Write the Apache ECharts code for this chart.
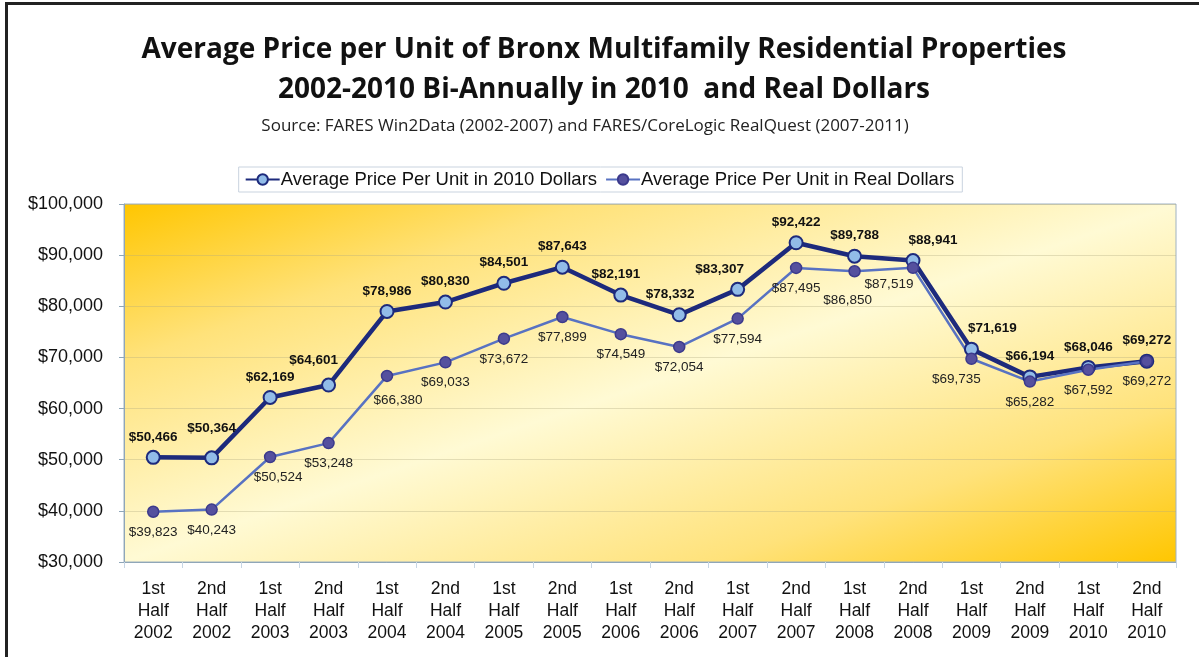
<!DOCTYPE html>
<html>
<head>
<meta charset="utf-8">
<title>Bronx Multifamily Average Price per Unit</title>
<script src="https://cdn.jsdelivr.net/npm/echarts@6/dist/echarts.min.js"></script>
<style>
  html, body { margin: 0; padding: 0; background: #fff; }
  #frame {
    position: absolute; left: 5px; top: 2px; width: 1194px; height: 655px;
    border-top: 3px solid #222; border-left: 3px solid #222; box-sizing: border-box;
  }
  #chart { position: absolute; left: 0; top: 0; width: 1199px; height: 657px; }
</style>
</head>
<body>
<div id="frame"></div>
<div id="chart"></div>
<script>
const categories = [
  '1st\nHalf\n2002', '2nd\nHalf\n2002', '1st\nHalf\n2003', '2nd\nHalf\n2003',
  '1st\nHalf\n2004', '2nd\nHalf\n2004', '1st\nHalf\n2005', '2nd\nHalf\n2005',
  '1st\nHalf\n2006', '2nd\nHalf\n2006', '1st\nHalf\n2007', '2nd\nHalf\n2007',
  '1st\nHalf\n2008', '2nd\nHalf\n2008', '1st\nHalf\n2009', '2nd\nHalf\n2009',
  '1st\nHalf\n2010', '2nd\nHalf\n2010'
]
const price2010 = [50466, 50364, 62169, 64601, 78986, 80830, 84501, 87643, 82191,
  78332, 83307, 92422, 89788, 88941, 71619, 66194, 68046, 69272]
const priceReal = [39823, 40243, 50524, 53248, 66380, 69033, 73672, 77899, 74549,
  72054, 77594, 87495, 86850, 87519, 69735, 65282, 67592, 69272]
const seriesNames = ['Average Price Per Unit in 2010 Dollars', 'Average Price Per Unit in Real Dollars']

// label nudges [dx, dy] in px so labels sit like the original
const nudge2010 = { 1: [0, -9], 3: [-15, -4], 8: [-5, 0], 9: [-9, 0], 10: [-18, 0], 13: [20, 0], 14: [21, 0] }
const nudgeReal = { 2: [8, 0], 4: [11, 4], 12: [-7, 9], 13: [-24, -4], 14: [-15, 0] }

const money = (v) => '$' + v.toLocaleString('en-US')

const withNudge = (values, nudge) => values.map((v, i) =>
  nudge[i] ? { value: v, label: { offset: nudge[i] } } : v)

const chart = echarts.init(document.getElementById('chart'))

const plotFill = new echarts.graphic.LinearGradient(0, 0, 0.207, 1.79, [
  { offset: 0, color: '#FFC600' },
  { offset: 0.22, color: '#FFE27A' },
  { offset: 0.5, color: '#FFFAD4' },
  { offset: 0.78, color: '#FFE27A' },
  { offset: 1, color: '#FFC600' }
])

chart.setOption({
  animation: false,
  title: [
    {
      text: 'Average Price per Unit of Bronx Multifamily Residential Properties\n2002-2010 Bi-Annually in 2010  and Real Dollars',
      left: 599, top: 25, textAlign: 'center',
      textStyle: { fontFamily: 'Open Sans', fontWeight: 'bold', fontSize: 28, lineHeight: 40, color: '#111' }
    },
    {
      text: 'Source: FARES Win2Data (2002-2007) and FARES/CoreLogic RealQuest (2007-2011)',
      left: 580, top: 111, textAlign: 'center',
      textStyle: { fontFamily: 'Open Sans', fontWeight: 'normal', fontSize: 17, lineHeight: 20, color: '#222' }
    }
  ],
  legend: {
    top: 167, left: 'center',
    padding: [3, 8, 3, 6],
    itemGap: 8,
    itemWidth: 34, itemHeight: 13,
    borderColor: '#c9d3df', borderWidth: 1,
    textStyle: { fontFamily: 'Liberation Sans', fontSize: 18.5, color: '#111', padding: [0, 0, 0, -4] },
    data: seriesNames
  },
  grid: {
    left: 124, right: 23, top: 204, height: 358,
    show: true, backgroundColor: plotFill,
    borderColor: '#9fb2c2', borderWidth: 1
  },
  xAxis: {
    type: 'category',
    data: categories,
    axisLine: { lineStyle: { color: '#8fa6b8', width: 1 } },
    axisTick: { show: true, length: 6, lineStyle: { color: '#c7d6e4' } },
    axisLabel: { fontFamily: 'Liberation Sans', fontSize: 17.5, lineHeight: 22, color: '#111', margin: 16, interval: 0 }
  },
  yAxis: {
    type: 'value',
    min: 30000, max: 100000, interval: 10000,
    axisLine: { show: true, lineStyle: { color: '#8fa6b8' } },
    axisTick: { show: true, length: 5, lineStyle: { color: '#8fa6b8' } },
    splitLine: { lineStyle: { color: 'rgba(175,170,130,0.35)' } },
    axisLabel: { fontFamily: 'Liberation Sans', fontSize: 18, color: '#111', margin: 21, formatter: money }
  },
  series: [
    {
      name: seriesNames[0],
      type: 'line',
      data: withNudge(price2010, nudge2010),
      symbol: 'circle', symbolSize: 13,
      lineStyle: { color: '#1d2a7c', width: 4.5 },
      itemStyle: { color: '#92bce8', borderColor: '#1d2a7c', borderWidth: 2 },
      label: {
        show: true, position: 'top', distance: 6,
        fontFamily: 'Liberation Sans', fontWeight: 'bold', fontSize: 13.5, color: '#111',
        formatter: (p) => money(p.value)
      }
    },
    {
      name: seriesNames[1],
      type: 'line',
      data: withNudge(priceReal, nudgeReal),
      symbol: 'circle', symbolSize: 11,
      lineStyle: { color: '#5872c2', width: 2.5 },
      itemStyle: { color: '#55509e', borderColor: '#3c3a8c', borderWidth: 1.5 },
      label: {
        show: true, position: 'bottom', distance: 7,
        fontFamily: 'Liberation Sans', fontSize: 13.5, color: '#222',
        formatter: (p) => money(p.value)
      }
    }
  ]
})

window.addEventListener('resize', () => chart.resize())
</script>
</body>
</html>
